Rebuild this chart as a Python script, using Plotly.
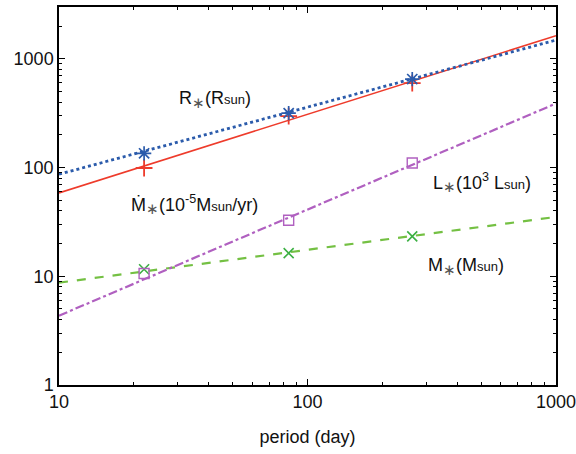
import numpy as np
import plotly.graph_objects as go

# ---- data ----
periods = [22.0, 84.0, 264.0]
R_star = [135, 316, 650]
Mdot_star = [99, 297, 597]
L_star = [10.6, 32.7, 110]
M_star = [11.6, 16.3, 23.3]

fit_x = [10, 1000]
R_fit = [86.7, 1486]
Mdot_fit = [58.4, 1629]
L_fit = [4.34, 388]
M_fit = [8.73, 35.1]

x_ticks = [10, 100, 1000]
y_ticks = [1, 10, 100, 1000]

BLUE = "#2b5bab"
RED = "#ee3b2b"
PURPLE = "#b060c0"
GREEN_L = "#74c043"
GREEN_M = "#3cb043"

fig = go.Figure()

def add_series(xf, yf, dash, lw, lcol, ys, sym, msize, mcol, mlw):
    fig.add_trace(go.Scatter(x=xf, y=yf, mode="lines",
                             line=dict(color=lcol, width=lw, dash=dash),
                             showlegend=False, hoverinfo="skip"))
    fig.add_trace(go.Scatter(x=periods, y=ys, mode="markers",
                             marker=dict(symbol=sym, size=msize, color=mcol,
                                         line=dict(color=mcol, width=mlw)),
                             showlegend=False))

add_series(fit_x, M_fit, "dash", 2.2, GREEN_L, M_star, "x-thin-open", 10, GREEN_M, 1.6)
add_series(fit_x, L_fit, "dashdot", 2.2, PURPLE, L_star, "square-open", 10, PURPLE, 1.4)
add_series(fit_x, Mdot_fit, "solid", 1.6, RED, Mdot_star, "cross-thin-open", 12, RED, 1.8)
add_series(fit_x, R_fit, "dot", 2.8, BLUE, R_star, "asterisk-open", 12, BLUE, 1.7)

FONT = "Liberation Sans, Arial, Helvetica, sans-serif"
sm = '<span style="font-size:13px">'
ast = '<sub><span style="font-size:15px;fill:#555">∗</span></sub>'

labels = [
    ("R" + ast + "(R" + sm + "sun</span>)", 0.314, 0.754),
    ("Ṁ" + ast + "(10<sup>-5</sup>M" + sm + "sun</span>/yr)", 0.272, 0.478),
    ("L" + ast + "(10<sup>3</sup> L" + sm + "sun</span>)", 0.852, 0.536),
    ("M" + ast + "(M" + sm + "sun</span>)", 0.819, 0.314),
]
for txt, ax_, ay_ in labels:
    fig.add_annotation(text=txt, x=ax_, y=ay_, xref="paper", yref="paper",
                       showarrow=False, font=dict(family=FONT, size=18, color="#111"),
                       xanchor="center", yanchor="middle")

minor_x = [m * 10 ** k for k in range(1, 3) for m in range(2, 10)]
minor_y = [m * 10 ** k for k in range(0, 4) for m in range(2, 10)]

axis_common = dict(showgrid=False, zeroline=False, showline=True, linecolor="black",
                   linewidth=1.5, ticks="inside", ticklen=6, tickwidth=1,
                   tickcolor="black", mirror="allticks", automargin=False,
                   ticklabeloverflow="allow",
                   tickfont=dict(family=FONT, size=18, color="#111"))

fig.update_xaxes(type="log", range=[1, 3.0001], tickvals=x_ticks,
                 ticktext=[str(v) for v in x_ticks],
                 minor=dict(tickvals=minor_x, ticks="inside", ticklen=3,
                            tickcolor="black", showgrid=False),
                 title=dict(text="period (day)", font=dict(family=FONT, size=18, color="#111"),
                            standoff=19),
                 **axis_common)
fig.update_yaxes(type="log", range=[0, 3.476], tickvals=y_ticks,
                 ticktext=[str(v) for v in y_ticks],
                 minor=dict(tickvals=minor_y, ticks="inside", ticklen=3,
                            tickcolor="black", showgrid=False),
                 **axis_common)

fig.update_layout(width=576, height=454, plot_bgcolor="white", paper_bgcolor="white",
                  margin=dict(l=59, r=20, t=7, b=69), showlegend=False)

fig.write_html("out.html", config={"displayModeBar": False},
               post_script="document.body.style.margin='0';document.body.style.padding='0';")
